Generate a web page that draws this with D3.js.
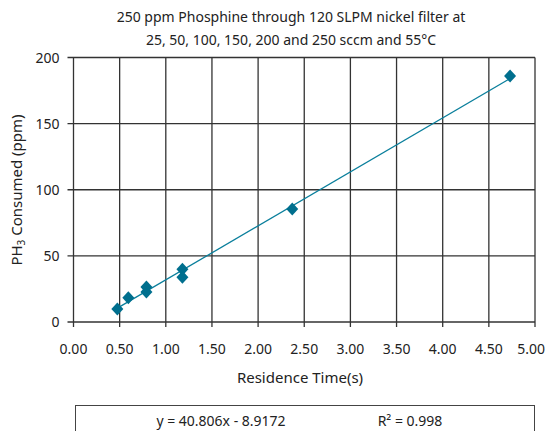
<!DOCTYPE html>
<html><head><meta charset="utf-8">
<script src="https://cdn.jsdelivr.net/npm/d3@7"></script>
<style>body{margin:0;background:#fff}svg{display:block}text{font-family:"Noto Sans","Liberation Sans",sans-serif;fill:#222}</style>
</head><body><svg id="c" width="546" height="431"></svg>
<script>
const residenceTime = [0.475, 0.594, 0.79, 0.79, 1.18, 1.18, 2.37, 4.73];
const ph3Consumed   = [9.8, 18.4, 22.7, 26.5, 33.8, 39.8, 85.4, 186];
const xTicks = [0,0.5,1,1.5,2,2.5,3,3.5,4,4.5,5];
const yTicks = [0,50,100,150,200];
const slope = 40.806, intercept = -8.9172;
const titleLines = ["250 ppm Phosphine through 120 SLPM nickel filter at","25, 50, 100, 150, 200 and 250 sccm and 55°C"];
const eqText = "y = 40.806x - 8.9172", r2Text = "R² = 0.998";

const svg = d3.select("#c");
const L=73.5,R=535,T=57.5,B=322;
const x = d3.scaleLinear().domain([0,5]).range([L,R]);
const y = d3.scaleLinear().domain([0,200]).range([B,T]);
const grid="#333";

// gridlines
svg.append("g").selectAll("line").data(xTicks).join("line")
  .attr("x1",d=>x(d)).attr("x2",d=>x(d)).attr("y1",T).attr("y2",B+5)
  .attr("stroke",grid).attr("stroke-width",1.3);
svg.append("g").selectAll("line").data(yTicks).join("line")
  .attr("y1",d=>y(d)).attr("y2",d=>y(d)).attr("x1",L-6).attr("x2",R)
  .attr("stroke",grid).attr("stroke-width",1.3);

// tick labels
svg.append("g").selectAll("text").data(xTicks).join("text")
  .attr("x",(d,i)=>i===xTicks.length-1? 545 : x(d)).attr("y",B+32)
  .attr("text-anchor",(d,i)=>i===xTicks.length-1?"end":"middle")
  .attr("font-size",14).text(d=>d3.format(".2f")(d));
svg.append("g").selectAll("text").data(yTicks).join("text")
  .attr("x",L-14).attr("y",d=>y(d)+5).attr("text-anchor","end")
  .attr("font-size",14).text(d=>d);

// trendline
const xmin=d3.min(residenceTime), xmax=d3.max(residenceTime);
svg.append("line").attr("x1",x(xmin)).attr("y1",y(slope*xmin+intercept))
  .attr("x2",x(xmax)).attr("y2",y(slope*xmax+intercept))
  .attr("stroke","#0a7f9c").attr("stroke-width",1.3);

// markers
const pts = residenceTime.map((t,i)=>[t,ph3Consumed[i]]);
svg.append("g").selectAll("path").data(pts).join("path")
  .attr("transform",d=>`translate(${x(d[0])},${y(d[1])})`)
  .attr("d","M0,-6.5L6,0L0,6.5L-6,0Z").attr("fill","#006f8e");

// titles
svg.append("g").selectAll("text").data(titleLines).join("text")
  .attr("x",291).attr("y",(d,i)=>22+i*23).attr("text-anchor","middle")
  .attr("font-size",14).text(d=>d);
svg.append("text").attr("x",300).attr("y",383).attr("text-anchor","middle")
  .attr("font-size",15).text("Residence Time(s)");
const yt = svg.append("text").attr("transform","translate(22,190) rotate(-90)")
  .attr("text-anchor","middle").attr("font-size",15);
yt.append("tspan").text("PH");
yt.append("tspan").attr("font-size",10).attr("dy",3).text("3");
yt.append("tspan").attr("dy",-3).text(" Consumed (ppm)");

// equation box
svg.append("rect").attr("x",75.5).attr("y",405.5).attr("width",459).attr("height",40)
  .attr("fill","none").attr("stroke","#444").attr("stroke-width",1);
svg.append("text").attr("x",221).attr("y",426).attr("text-anchor","middle").attr("font-size",14).text(eqText);
svg.append("text").attr("x",410).attr("y",426).attr("text-anchor","middle").attr("font-size",14).text(r2Text);
</script></body></html>
